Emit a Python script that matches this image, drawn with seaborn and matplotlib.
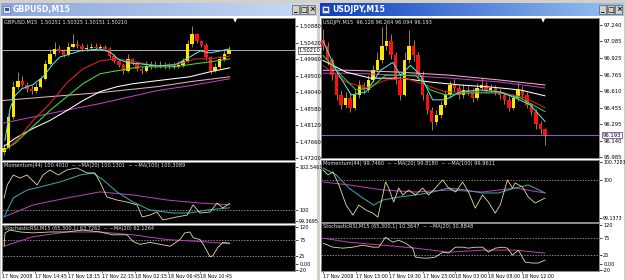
import numpy as np
import matplotlib
matplotlib.use("Agg")
import matplotlib.pyplot as plt
import seaborn as sns
from matplotlib.patches import Rectangle
from matplotlib.colors import LinearSegmentedColormap

sns.set_theme(style="dark")
plt.rcParams['font.family'] = ['DejaVu Sans']

# ---------------- GBPUSD M15 ----------------
gbp_open0 = 1.47380
gbp_close = [1.47477, 1.48363, 1.49194, 1.49361, 1.49250, 1.49139, 1.49084, 1.49194, 1.49416, 1.49832,
             1.50109, 1.50247, 1.50192, 1.50081, 1.50302, 1.50386, 1.50330, 1.50247, 1.50275, 1.50302,
             1.50275, 1.50302, 1.50247, 1.50053, 1.49915, 1.49804, 1.49638, 1.49970, 1.49859, 1.49693,
             1.49638, 1.49776, 1.49804, 1.49776, 1.49804, 1.49776, 1.49748, 1.49776, 1.49804, 1.49915,
             1.50386, 1.50663, 1.50469, 1.50358, 1.50025, 1.49638, 1.49748, 1.49970, 1.50109, 1.50210]
gbp_high = [1.4760, 1.4850, 1.4935, 1.4961, 1.4950, 1.4932, 1.4925, 1.4930, 1.4950, 1.4995,
            1.5025, 1.5044, 1.5035, 1.5025, 1.5045, 1.5066, 1.5050, 1.5040, 1.5038, 1.5042,
            1.5040, 1.5038, 1.5036, 1.5030, 1.5010, 1.4998, 1.4985, 1.5011, 1.5000, 1.4990,
            1.4975, 1.4990, 1.4992, 1.4990, 1.4990, 1.4988, 1.4985, 1.4988, 1.4990, 1.5000,
            1.5050, 1.5088, 1.5070, 1.5050, 1.5040, 1.5005, 1.4985, 1.5005, 1.5025, 1.50325]
gbp_low = [1.4728, 1.4745, 1.4830, 1.4912, 1.4918, 1.4905, 1.4900, 1.4902, 1.4915, 1.4938,
           1.4980, 1.5005, 1.5015, 1.5003, 1.5005, 1.5026, 1.5028, 1.5020, 1.5020, 1.5024,
           1.5022, 1.5023, 1.5020, 1.5000, 1.4985, 1.4975, 1.4955, 1.4960, 1.4980, 1.4962,
           1.4955, 1.4960, 1.4970, 1.4972, 1.4972, 1.4970, 1.4968, 1.4970, 1.4972, 1.4975,
           1.4988, 1.5030, 1.5040, 1.5030, 1.4995, 1.4955, 1.4960, 1.4970, 1.4992, 1.50151]

gbp_cyan_x = [0.2, 1.3, 2.4, 3.9, 6.3, 8.5, 10.7, 12.2, 13.7, 16.6, 20.9, 23.1, 24.8, 27.0, 29.6, 33.3, 37.3, 40.5, 42.7, 44.9, 47.1, 49.2]
gbp_cyan_y = [1.47699, 1.48585, 1.48945, 1.49139, 1.49250, 1.49471, 1.49832, 1.50025, 1.50081, 1.50192, 1.50247,
              1.50164, 1.49970, 1.49859, 1.49832, 1.49776, 1.49804, 1.50025, 1.50192, 1.50136, 1.50192, 1.50247]
gbp_red_x = [1.3, 3.5, 6.3, 10.0, 13.7, 17.2, 20.9, 24.2, 27.5, 30.7, 34.0, 38.3, 41.6, 44.9, 49.2]
gbp_red_y = [1.47532, 1.47809, 1.48253, 1.48724, 1.49305, 1.49693, 1.49915, 1.49970, 1.49915, 1.49832,
             1.49776, 1.49832, 1.49970, 1.49970, 1.50053]
gbp_green_x = [0.0, 2.4, 6.3, 10.0, 13.7, 17.2, 20.9, 24.6, 29.6, 33.3, 37.3, 41.6, 44.9, 49.2]
gbp_green_y = [1.47422, 1.47616, 1.48086, 1.48530, 1.48917, 1.49278, 1.49555, 1.49638, 1.49748, 1.49748,
               1.49748, 1.49832, 1.49887, 1.49970]
gbp_white_x = [0.0, 2.4, 6.3, 10.0, 13.7, 17.2, 20.9, 24.6, 28.1, 33.3, 40.5, 44.9, 49.2]
gbp_white_y = [1.47532, 1.47754, 1.48031, 1.48253, 1.48530, 1.48807, 1.49056, 1.49194, 1.49278, 1.49361,
               1.49471, 1.49610, 1.49721]
gbp_pink_x = [-0.5, 10.0, 20.9, 33.3, 40.5, 49.2]
gbp_pink_y = [1.48807, 1.48917, 1.49028, 1.49194, 1.49333, 1.49471]
gbp_mag_x = [-0.5, 10.0, 20.9, 33.3, 40.5, 49.2]
gbp_mag_y = [1.48170, 1.48447, 1.48724, 1.49084, 1.49222, 1.49416]
gbp_ticks = [1.47200, 1.47660, 1.48120, 1.48580, 1.49040, 1.49500, 1.49960, 1.50420, 1.50880]
gbp_last = 1.50210

gbp_mom_x = [0.0, 0.7, 2.0, 3.5, 5.0, 7.2, 8.5, 10.0, 11.8, 13.7, 15.9, 18.1, 19.8, 20.9, 22.4, 24.6, 26.8,
             29.0, 30.1, 31.8, 33.3, 34.6, 37.7, 39.9, 41.2, 42.7, 44.9, 46.4, 47.7, 49.2]
gbp_mom_y = [100.71, 101.48, 102.07, 101.89, 102.07, 101.48, 102.07, 102.37, 102.07, 102.37, 102.49, 102.19,
             102.19, 101.66, 100.77, 100.59, 100.47, 100.30, 99.59, 99.70, 99.88, 99.41, 99.59, 99.70, 100.30,
             99.82, 99.88, 100.41, 100.12, 100.40]
gbp_mom_ma20_x = [0.0, 2.0, 5.0, 7.8, 12.2, 16.6, 19.4, 21.6, 24.6, 28.1, 31.8, 36.8, 40.5, 44.2, 49.2]
gbp_mom_ma20_y = [99.59, 100.71, 101.18, 101.36, 101.66, 102.07, 102.19, 101.78, 101.07, 100.47, 100.00,
                  99.82, 99.82, 100.00, 100.13]
gbp_mom_ma100_x = [0.0, 6.3, 13.7, 20.9, 28.1, 35.5, 42.7, 49.2]
gbp_mom_ma100_y = [99.59, 100.30, 100.71, 101.07, 100.89, 100.59, 100.41, 100.31]

gbp_st_x = [0.0, 0.2, 1.3, 3.5, 6.3, 10.0, 13.7, 17.2, 20.9, 23.7, 26.8, 28.1, 29.6, 31.8, 34.0, 36.2, 38.3,
            39.4, 40.5, 41.2, 42.7, 43.4, 44.9, 45.5, 46.6, 47.7, 49.2]
gbp_st_y = [54.4, 95.6, 104.4, 98.5, 95.6, 98.5, 98.5, 104.4, 98.5, 89.7, 89.7, 69.1, 60.3, 66.2, 60.3, 54.4,
            75.0, 95.6, 98.5, 80.9, 75.0, 60.3, 22.1, 25.0, 51.5, 66.2, 63.7]
gbp_st_ma_x = [0.0, 6.3, 13.7, 20.9, 28.1, 35.5, 42.7, 49.2]
gbp_st_ma_y = [54.4, 83.8, 98.5, 98.5, 89.7, 75.0, 69.1, 62.1]
gbp_dates_x = [-0.4, 6.7, 13.9, 21.4, 28.5, 35.7, 42.7]
gbp_dates = ["17 Nov 2008", "17 Nov 14:45", "17 Nov 18:15", "17 Nov 22:15", "18 Nov 02:15", "18 Nov 06:45", "18 Nov 10:45"]

# ---------------- USDJPY M15 ----------------
jpy_open0 = 97.100
jpy_close = [97.043, 96.903, 96.762, 96.575, 96.481, 96.547, 96.453, 96.575, 96.669, 96.622,
             96.716, 96.809, 96.903, 97.043, 97.090, 96.950, 96.716, 96.575, 96.903, 97.043,
             96.950, 96.762, 96.575, 96.435, 96.322, 96.388, 96.481, 96.575, 96.669, 96.641,
             96.575, 96.622, 96.603, 96.547, 96.641, 96.669, 96.622, 96.641, 96.603, 96.575,
             96.528, 96.453, 96.547, 96.622, 96.575, 96.481, 96.416, 96.294, 96.247, 96.193]
jpy_high = [97.20, 97.08, 96.93, 96.80, 96.62, 96.60, 96.58, 96.62, 96.72, 96.70,
            96.76, 96.86, 96.98, 97.22, 97.25, 97.15, 96.98, 96.75, 96.98, 97.19,
            97.10, 96.98, 96.80, 96.60, 96.46, 96.43, 96.52, 96.62, 96.71, 96.73,
            96.67, 96.68, 96.66, 96.64, 96.69, 96.74, 96.70, 96.68, 96.67, 96.63,
            96.60, 96.56, 96.58, 96.70, 96.66, 96.60, 96.50, 96.44, 96.33, 96.264]
jpy_low = [97.00, 96.86, 96.72, 96.53, 96.44, 96.45, 96.41, 96.43, 96.55, 96.58,
           96.60, 96.70, 96.79, 96.88, 97.00, 96.92, 96.68, 96.53, 96.56, 96.88,
           96.90, 96.72, 96.53, 96.39, 96.24, 96.29, 96.36, 96.46, 96.55, 96.60,
           96.54, 96.55, 96.57, 96.51, 96.53, 96.62, 96.59, 96.60, 96.57, 96.54,
           96.49, 96.42, 96.43, 96.52, 96.55, 96.45, 96.38, 96.25, 96.20, 96.094]
jpy_cyan_x = [0.0, 2.9, 6.2, 9.5, 12.7, 15.4, 17.1, 19.3, 21.5, 24.2, 27.0, 30.3, 34.7, 39.1, 42.4, 45.7, 49.0]
jpy_cyan_y = [97.090, 96.809, 96.575, 96.603, 96.809, 96.884, 96.762, 96.856, 96.762, 96.528, 96.528,
              96.603, 96.622, 96.603, 96.547, 96.481, 96.322]
jpy_green_x = [0.0, 4.0, 7.3, 10.5, 13.8, 17.1, 20.4, 23.7, 27.0, 32.5, 39.1, 43.5, 49.0]
jpy_green_y = [96.950, 96.762, 96.622, 96.641, 96.762, 96.762, 96.762, 96.622, 96.575, 96.594, 96.594,
               96.547, 96.416]
jpy_red_x = [0.0, 5.1, 9.5, 13.8, 18.2, 22.6, 27.0, 32.5, 39.1, 44.6, 49.0]
jpy_red_y = [96.856, 96.697, 96.641, 96.716, 96.734, 96.669, 96.603, 96.603, 96.603, 96.547, 96.453]
jpy_white_x = [0.0, 5.1, 10.5, 17.1, 23.7, 30.3, 36.9, 43.5, 49.0]
jpy_white_y = [96.903, 96.791, 96.734, 96.734, 96.697, 96.669, 96.650, 96.622, 96.566]
jpy_pink_x = [0.0, 6.2, 17.1, 28.1, 39.1, 49.0]
jpy_pink_y = [96.809, 96.809, 96.791, 96.762, 96.716, 96.669]
jpy_mag_x = [0.0, 6.2, 17.1, 28.1, 39.1, 49.0]
jpy_mag_y = [96.781, 96.781, 96.762, 96.734, 96.697, 96.641]
jpy_ticks = [95.985, 96.140, 96.295, 96.455, 96.610, 96.765, 96.925, 97.085, 97.240]
jpy_last = 96.193

jpy_mom_x = [0.0, 1.1, 2.2, 3.5, 5.1, 6.6, 7.9, 9.5, 11.0, 12.1, 13.2, 13.8, 14.5, 15.6, 16.7, 17.6, 18.9,
             20.4, 22.0, 23.3, 24.8, 26.4, 27.7, 29.3, 30.8, 32.1, 33.6, 35.2, 36.5, 38.0, 39.1, 40.7, 41.8,
             42.4, 44.0, 45.3, 46.8, 49.0]
jpy_mom_y = [100.141, 100.071, 100.113, 99.930, 99.648, 99.507, 99.648, 99.577, 99.535, 99.478, 99.789,
             99.972, 99.887, 99.690, 99.887, 99.789, 99.859, 99.789, 99.887, 99.789, 99.887, 100.000, 99.887,
             99.831, 99.972, 99.831, 99.605, 99.789, 99.690, 99.535, 99.648, 100.000, 99.887, 99.958, 99.901,
             99.760, 99.676, 99.746]
jpy_mom_ma20_x = [0.0, 2.9, 5.7, 8.8, 11.2, 13.2, 16.7, 20.4, 24.2, 27.7, 31.4, 35.2, 38.7, 42.4, 45.3, 49.0]
jpy_mom_ma20_y = [100.169, 100.071, 99.887, 99.746, 99.648, 99.718, 99.760, 99.789, 99.831, 99.887, 99.859,
                  99.817, 99.817, 99.887, 99.930, 99.818]
jpy_mom_ma100_x = [0.0, 5.7, 13.2, 20.4, 27.7, 35.2, 42.4, 49.0]
jpy_mom_ma100_y = [99.972, 99.930, 99.859, 99.831, 99.859, 99.831, 99.887, 99.817]

jpy_st_x = [0.0, 2.2, 4.4, 6.6, 8.8, 11.0, 12.3, 13.8, 15.4, 16.7, 18.2, 19.8, 20.4, 22.0, 23.3, 24.8, 26.4,
            27.7, 29.2, 30.8, 32.1, 33.6, 35.2, 36.5, 38.0, 39.6, 40.7, 41.8, 43.1, 44.6, 46.2, 47.5, 49.0]
jpy_st_y = [60.3, 48.5, 45.6, 48.5, 54.4, 48.5, 48.5, 77.9, 63.2, 69.1, 60.3, 45.6, 19.1, 16.2, 16.2, 19.1,
            33.8, 30.9, 48.5, 48.5, 45.6, 48.5, 48.5, 33.8, 45.6, 48.5, 45.6, 25.0, 39.7, 4.4, 1.5, 1.5, 10.4]
jpy_st_ma_x = [0.0, 5.7, 13.2, 20.4, 27.7, 35.2, 42.4, 49.0]
jpy_st_ma_y = [75.0, 63.2, 54.4, 45.6, 33.8, 39.7, 39.7, 30.9]
jpy_dates_x = [0.0, 7.3, 14.5, 22.0, 29.2, 36.5, 44.0]
jpy_dates = ["17 Nov 2008", "17 Nov 15:00", "17 Nov 19:30", "17 Nov 23:00", "18 Nov 03:00", "18 Nov 08:00", "18 Nov 12:00"]

# ---------------- layout helpers ----------------
W, H = 625, 280
def box(x0, y0, x1, y1):
    return [x0 / W, 1 - y1 / H, (x1 - x0) / W, (y1 - y0) / H]

WICK = '#b49650'
UP = '#ffe400'
DOWN = '#ff1010'
KHAKI = '#e2e29c'
TEAL = '#3fa3a3'
MAG = '#b53cb5'

fig = plt.figure(figsize=(6.25, 2.8), dpi=100, facecolor='#d4d0c8')
bg = fig.add_axes([0, 0, 1, 1])
bg.set_xlim(0, W); bg.set_ylim(H, 0); bg.axis('off')

def title_bar(x0, x1, c0, c1, text):
    cmap = LinearSegmentedColormap.from_list('tb', [c0, c1])
    bg.imshow(np.linspace(0, 1, 256)[None, :], cmap=cmap, extent=(x0, x1, 16, 3), aspect='auto', zorder=1)
    bg.add_patch(Rectangle((x0 + 2, 5.5), 7, 7, facecolor='#e8e8e8', edgecolor='#4060a0', lw=0.4, zorder=2))
    bg.add_patch(Rectangle((x0 + 3.5, 7.5), 4, 3, facecolor='#3050c0', edgecolor='none', zorder=3))
    bg.text(x0 + 12, 9.8, text, color='white', fontsize=5.6, fontweight='bold', va='center', ha='left', zorder=3)
    for k, g in enumerate(['_', '□', '×']):
        bx = x1 - 25 + k * 8
        bg.add_patch(Rectangle((bx, 5), 7.2, 9, facecolor='#d4d0c8', edgecolor='#404040', lw=0.4, zorder=2))
        bg.text(bx + 3.6, 9.6, g, fontsize=5, ha='center', va='center', color='black', fontweight='bold', zorder=3)

bg.add_patch(Rectangle((1, 16), 316, H - 16, facecolor='white', edgecolor='none', zorder=0.5))
bg.add_patch(Rectangle((320, 16), 304, H - 16, facecolor='white', edgecolor='none', zorder=0.5))
title_bar(1, 317, '#8aa6dc', '#c8dcf6', 'GBPUSD,M15')
title_bar(320, 624, '#0a3fc0', '#9cc4f2', 'USDJPY,M15')

def style(ax, xlim, ylim, ticks=None, labels=None, lsize=4):
    ax.set_facecolor('black')
    ax.set_xlim(*xlim); ax.set_ylim(*ylim)
    ax.grid(False)
    for s in ax.spines.values():
        s.set_color('#8c8c8c'); s.set_linewidth(0.7)
    ax.yaxis.tick_right()
    ax.tick_params(axis='y', length=2, width=0.5, colors='black', labelsize=lsize, pad=1,
                   direction='out', right=True, left=False)
    ax.tick_params(axis='x', bottom=False, labelbottom=False)
    if ticks is not None:
        ax.set_yticks(ticks)
        ax.set_yticklabels(labels)
    ax.set_xlabel(''); ax.set_ylabel('')

def line(ax, x, y, color, lw=0.75, z=4):
    sns.lineplot(x=x, y=y, ax=ax, color=color, lw=lw, estimator=None, sort=False, zorder=z)

def candles(ax, open0, close, high, low):
    c = np.array(close); h = np.array(high); l = np.array(low)
    o = np.r_[open0, c[:-1]]
    x = np.arange(len(c))
    ax.vlines(x, l, h, color=WICK, lw=0.6, zorder=2)
    up = c >= o
    ax.bar(x[up], (c - o)[up], bottom=o[up], width=0.75, color=UP, edgecolor='none', zorder=3)
    ax.bar(x[~up], (o - c)[~up], bottom=c[~up], width=0.75, color=DOWN, edgecolor='none', zorder=3)

def header(ax, text):
    ax.text(0.006, 0.985, text, transform=ax.transAxes, color='#e8e8e8', fontsize=3.6,
            va='top', ha='left', zorder=6)

def dates(ax, xs, labels):
    ax.set_xticks(xs)
    ax.set_xticklabels(labels, ha='left')
    ax.tick_params(axis='x', bottom=True, labelbottom=True, length=1.5, width=0.4, colors='black',
                   labelsize=3.4, pad=0.5)

# ================= LEFT WINDOW =================
LX = (-0.45, 63.4)
axL = fig.add_axes(box(2, 18, 295, 160))
candles(axL, gbp_open0, gbp_close, gbp_high, gbp_low)
line(axL, gbp_mag_x, gbp_mag_y, '#c23cc2')
line(axL, gbp_pink_x, gbp_pink_y, '#e0b4b4')
line(axL, gbp_white_x, gbp_white_y, '#ffffff')
line(axL, gbp_green_x, gbp_green_y, '#3ee03e')
line(axL, gbp_red_x, gbp_red_y, '#e02424')
line(axL, gbp_cyan_x, gbp_cyan_y, '#4ee6e6')
axL.axhline(gbp_last, color='#c8c8c8', lw=0.6, zorder=1)
style(axL, LX, (1.4715, 1.5111), gbp_ticks, [f'{t:.5f}' for t in gbp_ticks], lsize=3.8)
header(axL, 'GBPUSD,M15  1.50251 1.50325 1.50151 1.50210')
axL.text(0.795, 1.0, '▼', transform=axL.transAxes, color='white', fontsize=4, ha='center', va='top')
axL.text(1.012, gbp_last, f'{gbp_last:.5f}', transform=axL.get_yaxis_transform(), fontsize=3.8,
         va='center', ha='left', color='black',
         bbox=dict(boxstyle='square,pad=0.15', facecolor='white', edgecolor='black', lw=0.4), zorder=7)

axLm = fig.add_axes(box(2, 162, 295, 223))
line(axLm, gbp_mom_ma100_x, gbp_mom_ma100_y, MAG)
line(axLm, gbp_mom_ma20_x, gbp_mom_ma20_y, TEAL)
line(axLm, gbp_mom_x, gbp_mom_y, KHAKI, lw=0.6)
axLm.axhline(100, color='#c0c0c0', lw=0.5, ls=(0, (2, 2)), zorder=1)
style(axLm, LX, (99.23, 102.84), [99.3695, 100, 102.5461], ['99.3695', '100', '102.5461'], lsize=3.5)
header(axLm, 'Momentum(44) 100.4010  ~ ~MA(20) 100.1301  ~ ~MA(100) 100.3089')

axLs = fig.add_axes(box(2, 225, 295, 271))
line(axLs, gbp_st_ma_x, gbp_st_ma_y, MAG)
line(axLs, gbp_st_x, gbp_st_y, KHAKI, lw=0.6)
for lv in (75, 25):
    axLs.axhline(lv, color='#c0c0c0', lw=0.5, ls=(0, (2, 2)), zorder=1)
style(axLs, LX, (-22, 120), [-20, 0, 25, 75, 114], ['-20', '0,00', '25', '75', '120'], lsize=3.6)
header(axLs, 'StochasticRSI,M15 (65,300,1) 63.7262  ~ ~MA(20) 62.1264')
dates(axLs, gbp_dates_x, gbp_dates)

# ================= RIGHT WINDOW =================
RX = (-0.44, 60.9)
axR = fig.add_axes(box(321, 18, 599, 158))
candles(axR, jpy_open0, jpy_close, jpy_high, jpy_low)
line(axR, jpy_mag_x, jpy_mag_y, '#c23cc2')
line(axR, jpy_pink_x, jpy_pink_y, '#e6b0d0')
line(axR, jpy_white_x, jpy_white_y, '#ffffff')
line(axR, jpy_red_x, jpy_red_y, '#d02020')
line(axR, jpy_green_x, jpy_green_y, '#36d036')
line(axR, jpy_cyan_x, jpy_cyan_y, '#4ee6e6')
axR.axhline(jpy_last, color='#8a5cb0', lw=0.8, zorder=1)
style(axR, RX, (95.975, 97.306), jpy_ticks, [f'{t:.3f}' for t in jpy_ticks], lsize=3.8)
header(axR, 'USDJPY,M15  96.128 96.264 96.094 96.193')
axR.text(0.8, 1.0, '▼', transform=axR.transAxes, color='white', fontsize=4, ha='center', va='top')
axR.text(1.012, jpy_last, f'{jpy_last:.3f}', transform=axR.get_yaxis_transform(), fontsize=3.8,
         va='center', ha='left', color='black',
         bbox=dict(boxstyle='square,pad=0.15', facecolor='white', edgecolor='#7a4aa8', lw=0.6), zorder=7)

axRm = fig.add_axes(box(321, 160, 599, 222))
line(axRm, jpy_mom_ma100_x, jpy_mom_ma100_y, MAG)
line(axRm, jpy_mom_ma20_x, jpy_mom_ma20_y, TEAL)
line(axRm, jpy_mom_x, jpy_mom_y, KHAKI, lw=0.6)
axRm.axhline(100, color='#c0c0c0', lw=0.5, ls=(0, (2, 2)), zorder=1)
style(axRm, RX, (99.41, 100.28), [99.47, 100, 100.245], ['99.1373', '100', '100.7283'], lsize=3.4)
header(axRm, 'Momentum(44) 99.7460  ~ ~MA(20) 99.8180  ~ ~MA(100) 99.9611')

axRs = fig.add_axes(box(321, 223, 599, 271))
line(axRs, jpy_st_ma_x, jpy_st_ma_y, MAG)
line(axRs, jpy_st_x, jpy_st_y, KHAKI, lw=0.6)
for lv in (75, 25):
    axRs.axhline(lv, color='#c0c0c0', lw=0.5, ls=(0, (2, 2)), zorder=1)
style(axRs, RX, (-22, 120), [-20, 0, 25, 75, 114], ['-20', '0,00', '25', '75', '120'], lsize=3.6)
header(axRs, 'StochasticRSI,M15 (65,300,1) 10.3647  ~ ~MA(20) 30.8848')
dates(axRs, jpy_dates_x, jpy_dates)

fig.savefig('out.png', dpi=100, facecolor=fig.get_facecolor())
